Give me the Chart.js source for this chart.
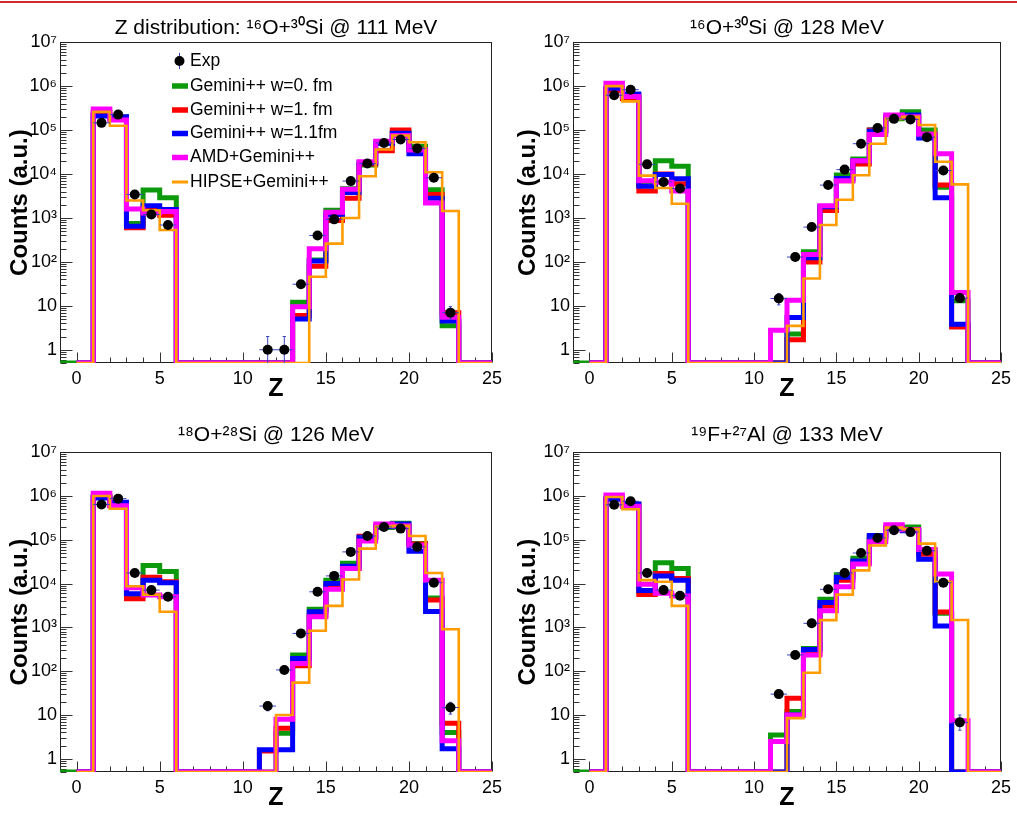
<!DOCTYPE html>
<html><head><meta charset="utf-8">
<script src="https://cdn.jsdelivr.net/npm/chart.js@4/dist/chart.umd.min.js"></script>
<style>
html,body{margin:0;padding:0;background:#fff;}
#wrap{position:relative;width:1017px;height:817px;overflow:hidden;background:#fff;}
#topline{position:absolute;left:0;top:1px;width:1017px;height:2px;background:#d42a2a;}
canvas{position:absolute;}
</style></head><body>
<div id="wrap">
<div id="topline"></div>
<canvas id="c1" width="508" height="408" style="left:0;top:0"></canvas>
<canvas id="c2" width="508" height="408" style="left:508px;top:0"></canvas>
<canvas id="c3" width="508" height="409" style="left:0;top:408px"></canvas>
<canvas id="c4" width="508" height="409" style="left:508px;top:408px"></canvas>
</div>
<script>
// ---------- data (bins Z = 1 .. 22) ----------
const zBins = [1,2,3,4,5,6,7,8,9,10,11,12,13,14,15,16,17,18,19,20,21,22];
const seriesNames = ['Gemini++ w=0. fm','Gemini++ w=1. fm','Gemini++ w=1.1fm','AMD+Gemini++','HIPSE+Gemini++'];
const expName = 'Exp';
const titles = ['Z distribution: \u00B9\u2076O+\u00B3\u2070Si @ 111 MeV','\u00B9\u2076O+\u00B3\u2070Si @ 128 MeV','\u00B9\u2078O+\u00B2\u2078Si @ 126 MeV','\u00B9\u2079F+\u00B2\u2077Al @ 133 MeV'];
const xTickValues = [0,5,10,15,20,25];
const yTickValues = [1,10,100,1e3,1e4,1e5,1e6,1e7];
const yTickLabels = ['1','10','10\u00B2','10\u00B3','10\u2074','10\u2075','10\u2076','10\u2077'];

// panel 1: 16O+30Si @ 111 MeV
const exp1 = [1.46e5,2.25e5,3430,1200,690,null,null,null,null,null,1,1,31,400,930,6900,1.74e4,5.1e4,6.1e4,3.8e4,8200,7];
const gem0_1 = [2.2e5,2.0e5,750,4300,2900,0,0,0,0,0,0,0,12,110,1500,4600,1.6e4,5.0e4,9.0e4,4.3e4,4400,3.5];
const gem1_1 = [2.5e5,1.8e5,600,1650,1150,0,0,0,0,0,0,0,6,80,870,2800,1.7e4,3.4e4,1.0e5,3.5e4,3400,7];
const gem11_1 = [2.1e5,2.0e5,650,1900,1550,0,0,0,0,0,0,0,5,105,1200,3800,1.8e4,5.0e4,8.5e4,2.9e4,2800,4.5];
const amd_1 = [3.0e5,1.7e5,1600,1300,1400,0,0,0,0,0,0,0,9.5,200,1350,4500,1.9e4,5.6e4,7.5e4,3.5e4,2200,5.5];
const hipse_1 = [2.6e5,1.25e5,2500,1500,530,0,0,0,0,0,0,0,0,46,260,1000,8900,3.6e4,7.5e4,5.3e4,1.1e4,1440];
const errV_1 = [[11,0,2],[12,0,2],[22,5,9.6]];

// panel 2: 16O+30Si @ 128 MeV
const exp2 = [6.2e5,8.3e5,1.66e4,6600,4700,null,null,null,null,null,14.7,129,620,5600,1.26e4,4.9e4,1.12e5,1.8e5,1.75e5,6.9e4,1.2e4,15];
const gem0_2 = [9e5,6e5,5500,2.0e4,1.5e4,0,0,0,0,0,0,2.3,170,1800,9500,2.2e4,1.0e5,1.8e5,2.6e5,1.0e5,5000,13];
const gem1_2 = [8e5,5.2e5,4100,1.0e4,6000,0,0,0,0,0,0,1.7,100,1470,7000,1.7e4,1.0e5,2.0e5,2.0e5,8e4,5600,3.3];
const gem11_2 = [9e5,6.6e5,5300,9800,7800,0,0,0,0,0,0,5.4,125,1800,7900,2.0e4,9.4e4,2.0e5,2.2e5,6.6e4,2900,3.8];
const amd_2 = [1.17e6,5.8e5,7000,6500,4100,0,0,0,0,0,2.8,13.4,147,1900,7000,2.0e4,7.9e4,2.2e5,2.0e5,8e4,2.9e4,20];
const hipse_2 = [1.0e6,4.5e5,9200,4800,2100,0,0,0,0,0,0,3.5,42,690,2600,9400,4.9e4,1.8e5,2.0e5,1.3e5,1.9e4,5800];
const errV_2 = [[11,10.5,19]];

// panel 3: 18O+28Si @ 126 MeV
const exp3 = [6.4e5,8.7e5,1.75e4,7100,5000,null,null,null,null,null,16,107,730,6500,1.5e4,5.3e4,1.22e5,1.96e5,1.8e5,6.9e4,1.05e4,14.8];
const gem0_3 = [9.5e5,7e5,5500,2.6e4,1.9e4,0,0,0,0,0,0,3.85,235,2600,1.2e4,2.9e4,1.1e5,1.9e5,2.4e5,8.2e4,4700,4];
const gem1_3 = [9.5e5,6e5,4500,1.4e4,1.1e4,0,0,0,0,0,1.5,5,133,1900,9000,2.2e4,1.2e5,2.0e5,2.0e5,8e4,4200,6.5];
const gem11_3 = [9e5,7.2e5,5900,1.2e4,1.05e4,0,0,0,0,0,1.6,1.6,195,2270,1.0e4,2.5e4,1.15e5,2.0e5,2.3e5,5.5e4,2300,1.7];
const amd_3 = [1.15e6,6e5,8000,5500,5000,0,0,0,0,0,0,8,150,1750,7400,2.2e4,9.4e4,2.3e5,2.1e5,7.5e4,1.2e4,2.6];
const hipse_3 = [1.0e6,5.1e5,8700,5600,2270,0,0,0,0,0,0,10,55,840,3100,1.24e4,6.3e4,2.0e5,2.1e5,1.22e5,1.75e4,910];
const errV_3 = [[11,12.5,19.5],[22,10.5,19.5]];

// panel 4: 19F+27Al @ 133 MeV
const exp4 = [6.3e5,7.6e5,1.75e4,7100,5300,null,null,null,null,null,30,235,1240,7400,1.75e4,5.0e4,1.1e5,1.65e5,1.5e5,5.6e4,1.05e4,6.8];
const gem0_4 = [8.5e5,6.5e5,6500,3.0e4,2.2e4,0,0,0,0,0,3.5,12,330,4400,1.6e4,3.8e4,1.2e5,1.8e5,1.96e5,5.8e4,2100,0];
const gem1_4 = [8.5e5,6e5,5650,1.7e4,1.3e4,0,0,0,0,0,0,24,255,3100,1.2e4,3.0e4,1.1e5,1.9e5,1.7e5,4.7e4,2240,0];
const gem11_4 = [8.5e5,6.6e5,7000,1.5e4,1.2e4,0,0,0,0,0,0,10,315,3700,1.4e4,3.3e4,1.25e5,1.8e5,1.6e5,3.6e4,1070,0];
const amd_4 = [1.05e6,5.8e5,9700,6000,5200,0,0,0,0,0,2.5,10,235,2400,8500,2.8e4,9.0e4,2.2e5,1.7e5,6.0e4,1.66e4,7.4];
const hipse_4 = [9.5e5,5.0e5,1.2e4,1.1e4,3100,0,0,0,0,0,0,8.5,92,1470,5600,2.0e4,7.4e4,1.9e5,1.75e5,8.2e4,1.1e4,1480];
const errV_4 = [[22,4.5,10]];

// ---------- styling ----------
const X_MIN = -1, X_MAX = 25, Y_MIN = 0.5, Y_MAX = 1e7;
const FONT = '"Liberation Sans", Arial, Helvetica, sans-serif';
const colors = ['#0c9a0c','#ff0000','#0000ff','#ff00ff','#ff9c00'];
const widths = [5,5,5,5,2.6];
const starts = [-1,0,0,0,0];
const ERR_COLOR = '#3a44c4';

function histPoints(vals, start) {
  const pts = [];
  for (let z = start; z < X_MAX; z++) {
    const i = zBins.indexOf(z);
    const v = i >= 0 ? vals[i] : 0;
    pts.push({x: z, y: v > 0 ? v : Y_MIN});
  }
  pts.push({x: X_MAX, y: pts[pts.length - 1].y});
  return pts;
}
function gap(x) { return {x: x, y: null}; }
function expPoints(vals) {
  const pts = [];
  zBins.forEach((z, i) => { if (vals[i] != null) pts.push({x: z + 0.5, y: vals[i]}); });
  return pts;
}
function errHPoints(vals) {
  const pts = [];
  zBins.forEach((z, i) => { if (vals[i] != null) { pts.push({x: z, y: vals[i]}, {x: z + 1, y: vals[i]}, gap(z + 1)); } });
  return pts;
}
function errVPoints(errs) {
  const pts = [];
  errs.forEach(([z, lo, hi]) => {
    const l = lo > 0 ? lo : Y_MIN;
    pts.push({x: z + 0.5, y: l}, {x: z + 0.5, y: hi}, gap(z + 0.5));
    pts.push({x: z + 0.4, y: hi}, {x: z + 0.6, y: hi}, gap(z + 0.6));
    if (lo > 0) pts.push({x: z + 0.4, y: lo}, {x: z + 0.6, y: lo}, gap(z + 0.6));
  });
  return pts;
}

const frameTicks = {
  id: 'frameTicks',
  beforeDatasetsDraw(chart) {
    const {ctx, chartArea: a, scales: {x, y}} = chart;
    ctx.save();
    ctx.strokeStyle = '#222';
    ctx.lineWidth = 1;
    const L = Math.round(a.left) + 0.5, R = Math.round(a.right) - 0.5, T = Math.round(a.top) + 0.5, B = Math.round(a.bottom) - 0.5;
    ctx.strokeRect(L, T, R - L, B - T);
    ctx.strokeStyle = '#333';
    ctx.beginPath();
    for (let k = -1; k < 7; k++) {
      for (let m = 1; m <= 9; m++) {
        const v = m * Math.pow(10, k);
        if (v < Y_MIN || v > Y_MAX) continue;
        const py = Math.round(y.getPixelForValue(v)) + 0.5;
        const len = m === 1 ? 12 : 6;
        ctx.moveTo(L, py); ctx.lineTo(L + len, py);
      }
    }
    for (let z = 0; z <= X_MAX; z++) {
      const px = Math.round(x.getPixelForValue(z)) + 0.5;
      const len = z % 5 === 0 ? 10 : 5;
      ctx.moveTo(px, B); ctx.lineTo(px, B - len);
    }
    ctx.stroke();
    ctx.restore();
  }
};

const rootLegend = {
  id: 'rootLegend',
  afterDatasetsDraw(chart) {
    const ctx = chart.ctx;
    ctx.save();
    ctx.font = '17.5px ' + FONT;
    ctx.textBaseline = 'middle';
    ctx.textAlign = 'left';
    const lx0 = 172, lx1 = 188, tx = 190;
    let yy = 61;
    ctx.strokeStyle = ERR_COLOR; ctx.lineWidth = 1;
    ctx.beginPath(); ctx.moveTo(179.5, yy - 8); ctx.lineTo(179.5, yy + 8); ctx.stroke();
    ctx.fillStyle = '#000';
    ctx.beginPath(); ctx.arc(179.5, yy, 5, 0, 2 * Math.PI); ctx.fill();
    ctx.fillText(expName, tx, yy);
    const ys = [86, 110, 133.5, 157.5, 182];
    seriesNames.forEach((n, i) => {
      ctx.strokeStyle = colors[i];
      ctx.lineWidth = i < 4 ? 5.5 : 3;
      ctx.beginPath(); ctx.moveTo(lx0, ys[i]); ctx.lineTo(lx1, ys[i]); ctx.stroke();
      ctx.fillStyle = '#000';
      ctx.fillText(n, tx, ys[i]);
    });
    ctx.restore();
  }
};

function makePanel(id, title, exp, series, errV, opts) {
  const datasets = [];
  series.forEach((vals, i) => {
    datasets.push({
      label: seriesNames[i], data: histPoints(vals, starts[i]),
      borderColor: colors[i], borderWidth: widths[i], stepped: 'before',
      pointRadius: 0, fill: false, order: 6 - i, borderJoinStyle: 'miter', borderCapStyle: 'butt'
    });
  });
  datasets.push({label: 'errH', data: errHPoints(exp), borderColor: ERR_COLOR, borderWidth: 1, pointRadius: 0, spanGaps: false, order: 1});
  datasets.push({label: 'errV', data: errVPoints(errV), borderColor: ERR_COLOR, borderWidth: 1, pointRadius: 0, spanGaps: false, order: 1});
  datasets.push({label: expName, data: expPoints(exp), showLine: false, pointRadius: 5, pointBackgroundColor: '#000', pointBorderColor: '#000', pointBorderWidth: 0, order: 0});

  return new Chart(document.getElementById(id), {
    type: 'line',
    data: {datasets},
    plugins: opts.legend ? [frameTicks, rootLegend] : [frameTicks],
    options: {
      responsive: false, animation: false, devicePixelRatio: 1, events: [],
      layout: {padding: {left: 0, right: opts.right, top: 0, bottom: 0}},
      plugins: {
        legend: {display: false}, tooltip: {enabled: false},
        title: {display: true, text: title, fullSize: false, color: '#000',
          font: {family: FONT, size: 21, weight: 'normal'}, padding: {top: opts.titleTop, bottom: opts.titleBottom}}
      },
      scales: {
        x: {
          type: 'linear', min: X_MIN, max: X_MAX,
          afterBuildTicks: s => { s.ticks = xTickValues.map(v => ({value: v})); },
          afterFit: s => { s.height = 45; },
          grid: {display: false, drawTicks: false}, border: {display: false},
          ticks: {color: '#000', font: {family: FONT, size: 18}, padding: 5, autoSkip: false, maxRotation: 0,
            callback: v => String(v)},
          title: {display: true, text: 'Z', color: '#000', font: {family: FONT, size: 25, weight: 'bold'}, padding: {top: 0, bottom: 4}}
        },
        y: {
          type: 'logarithmic', min: Y_MIN, max: Y_MAX,
          afterBuildTicks: s => { s.ticks = yTickValues.map(v => ({value: v})); },
          afterFit: s => { s.width = opts.left; },
          grid: {display: false, drawTicks: false}, border: {display: false},
          ticks: {color: '#000', font: {family: FONT, size: 18}, padding: 3, autoSkip: false,
            callback: v => { const i = yTickValues.indexOf(v); return i >= 0 ? yTickLabels[i] : ''; }},
          title: {display: true, text: 'Counts (a.u.)', color: '#000', font: {family: FONT, size: 24, weight: 'bold'}, padding: {top: 6, bottom: 0}}
        }
      }
    }
  });
}

makePanel('c1', titles[0], exp1, [gem0_1, gem1_1, gem11_1, amd_1, hipse_1], errV_1, {legend: true, right: 16, left: 60, titleTop: 16, titleBottom: 1});
makePanel('c2', titles[1], exp2, [gem0_2, gem1_2, gem11_2, amd_2, hipse_2], errV_2, {legend: false, right: 12, left: 65, titleTop: 16, titleBottom: 1});
makePanel('c3', titles[2], exp3, [gem0_3, gem1_3, gem11_3, amd_3, hipse_3], errV_3, {legend: false, right: 16, left: 60, titleTop: 15, titleBottom: 4});
makePanel('c4', titles[3], exp4, [gem0_4, gem1_4, gem11_4, amd_4, hipse_4], errV_4, {legend: false, right: 12, left: 65, titleTop: 15, titleBottom: 4});
</script>
</body></html>
